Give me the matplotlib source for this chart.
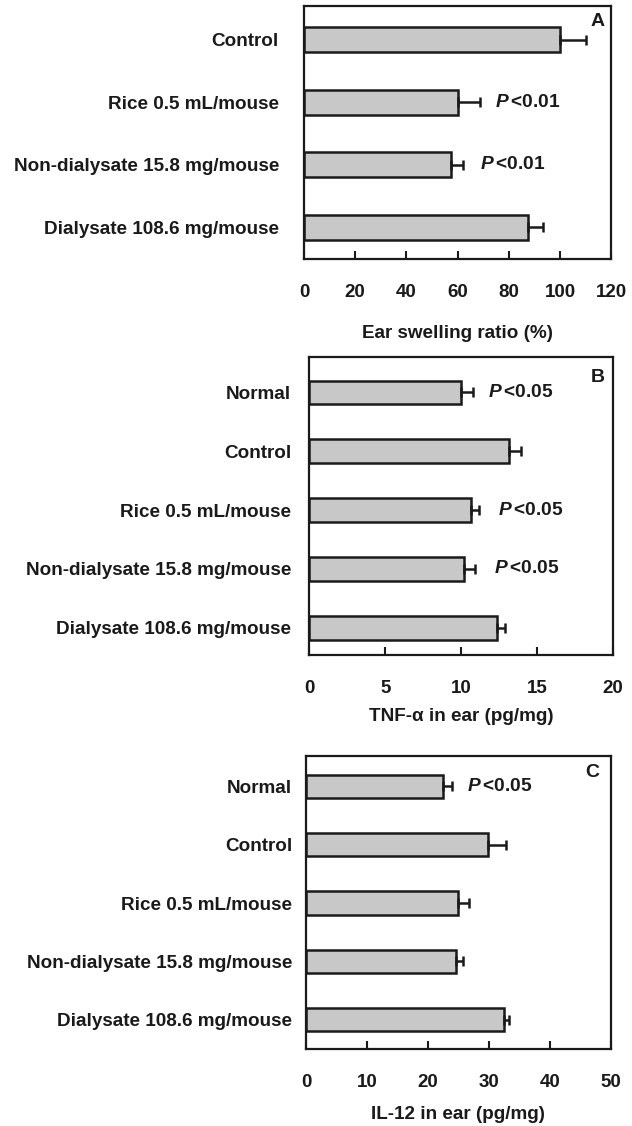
import numpy as np
import matplotlib
matplotlib.use("Agg")
import matplotlib.pyplot as plt

plt.rcParams['font.family'] = ['Liberation Sans', 'DejaVu Sans']
plt.rcParams['font.weight'] = 'bold'
plt.rcParams['mathtext.fontset'] = 'custom'
plt.rcParams['mathtext.it'] = 'Liberation Sans:italic:bold'
plt.rcParams['mathtext.rm'] = 'Liberation Sans:bold'

# panel A
groups_a = ["Control", "Rice 0.5 mL/mouse", "Non-dialysate 15.8 mg/mouse", "Dialysate 108.6 mg/mouse"]
swelling = [100, 60, 57.3, 87.7]
swelling_err = [10.3, 8.9, 5.0, 5.6]
pvals_a = ["", "<0.01", "<0.01", ""]

# panels B and C
groups_bc = ["Normal", "Control", "Rice 0.5 mL/mouse", "Non-dialysate 15.8 mg/mouse", "Dialysate 108.6 mg/mouse"]
tnf = [10.0, 13.15, 10.65, 10.2, 12.4]
tnf_err = [0.8, 0.8, 0.55, 0.72, 0.5]
pvals_b = ["<0.05", "", "<0.05", "<0.05", ""]
il12 = [22.4, 29.9, 25.0, 24.6, 32.5]
il12_err = [1.6, 2.9, 1.8, 1.2, 0.8]
pvals_c = ["<0.05", "", "", "", ""]

ink = '#1a1a1a'
bar_col = '#c8c8c8'

panels = [
    dict(rect=[0.481, 0.770, 0.486, 0.2247], groups=groups_a, vals=swelling, errs=swelling_err,
         pv=pvals_a, ptext_x=[None, 74.7, 68.8, None], xmax=120, xticks=np.arange(0, 121, 20),
         xlabel="Ear swelling ratio (%)", letter="A", ylim=(3.51, -0.54), ypad=18,
         letter_xy=(0.955, 0.937), labelpad=17),
    dict(rect=[0.4894, 0.4183, 0.4801, 0.2647], groups=groups_bc, vals=tnf, errs=tnf_err,
         pv=pvals_b, ptext_x=[11.8, None, 12.45, 12.18, None], xmax=20, xticks=np.arange(0, 21, 5),
         xlabel="TNF-α in ear (pg/mg)", letter="B", ylim=(4.46, -0.6), ypad=13,
         letter_xy=(0.95, 0.93), labelpad=8),
    dict(rect=[0.4842, 0.0684, 0.4821, 0.2602], groups=groups_bc, vals=il12, errs=il12_err,
         pv=pvals_c, ptext_x=[26.4, None, None, None, None], xmax=50, xticks=np.arange(0, 51, 10),
         xlabel="IL-12 in ear (pg/mg)", letter="C", ylim=(4.5, -0.52), ypad=10,
         letter_xy=(0.938, 0.942), labelpad=11),
]

fig = plt.figure(figsize=(6.32, 11.26), dpi=100)

for p in panels:
    ax = fig.add_axes(p["rect"])
    y = np.arange(len(p["groups"]))
    ax.barh(y, p["vals"], height=0.4, color=bar_col, edgecolor=ink, linewidth=1.8, zorder=2)
    ax.errorbar(p["vals"], y, xerr=[np.zeros(len(y)), p["errs"]], fmt='none', ecolor=ink,
                elinewidth=1.8, capsize=3.6, capthick=1.8, zorder=3)
    for yi, s, px in zip(y, p["pv"], p["ptext_x"]):
        if s:
            ax.text(px, yi, r"$\mathit{P}\,$" + s, fontsize=13.8, fontweight='bold', color=ink,
                    va='center', ha='left')
    ax.set_xlim(0, p["xmax"])
    ax.set_ylim(*p["ylim"])
    ax.set_xticks(p["xticks"])
    ax.set_yticks(y)
    ax.set_yticklabels(p["groups"], fontsize=13.6, fontweight='bold', color=ink)
    ax.tick_params(axis='y', length=0, pad=p["ypad"])
    ax.tick_params(axis='x', direction='in', length=6, width=1.5, pad=18, labelsize=13.5,
                   colors=ink)
    for lab in ax.get_xticklabels():
        lab.set_fontweight('bold')
    for sp in ax.spines.values():
        sp.set_linewidth(1.6)
        sp.set_color(ink)
    ax.set_xlabel(p["xlabel"], fontsize=13.6, fontweight='bold', color=ink, labelpad=p["labelpad"])
    ax.text(p["letter_xy"][0], p["letter_xy"][1], p["letter"], transform=ax.transAxes,
            fontsize=14, fontweight='bold', ha='center', va='center', color=ink)

fig.savefig("out.png", dpi=100)
